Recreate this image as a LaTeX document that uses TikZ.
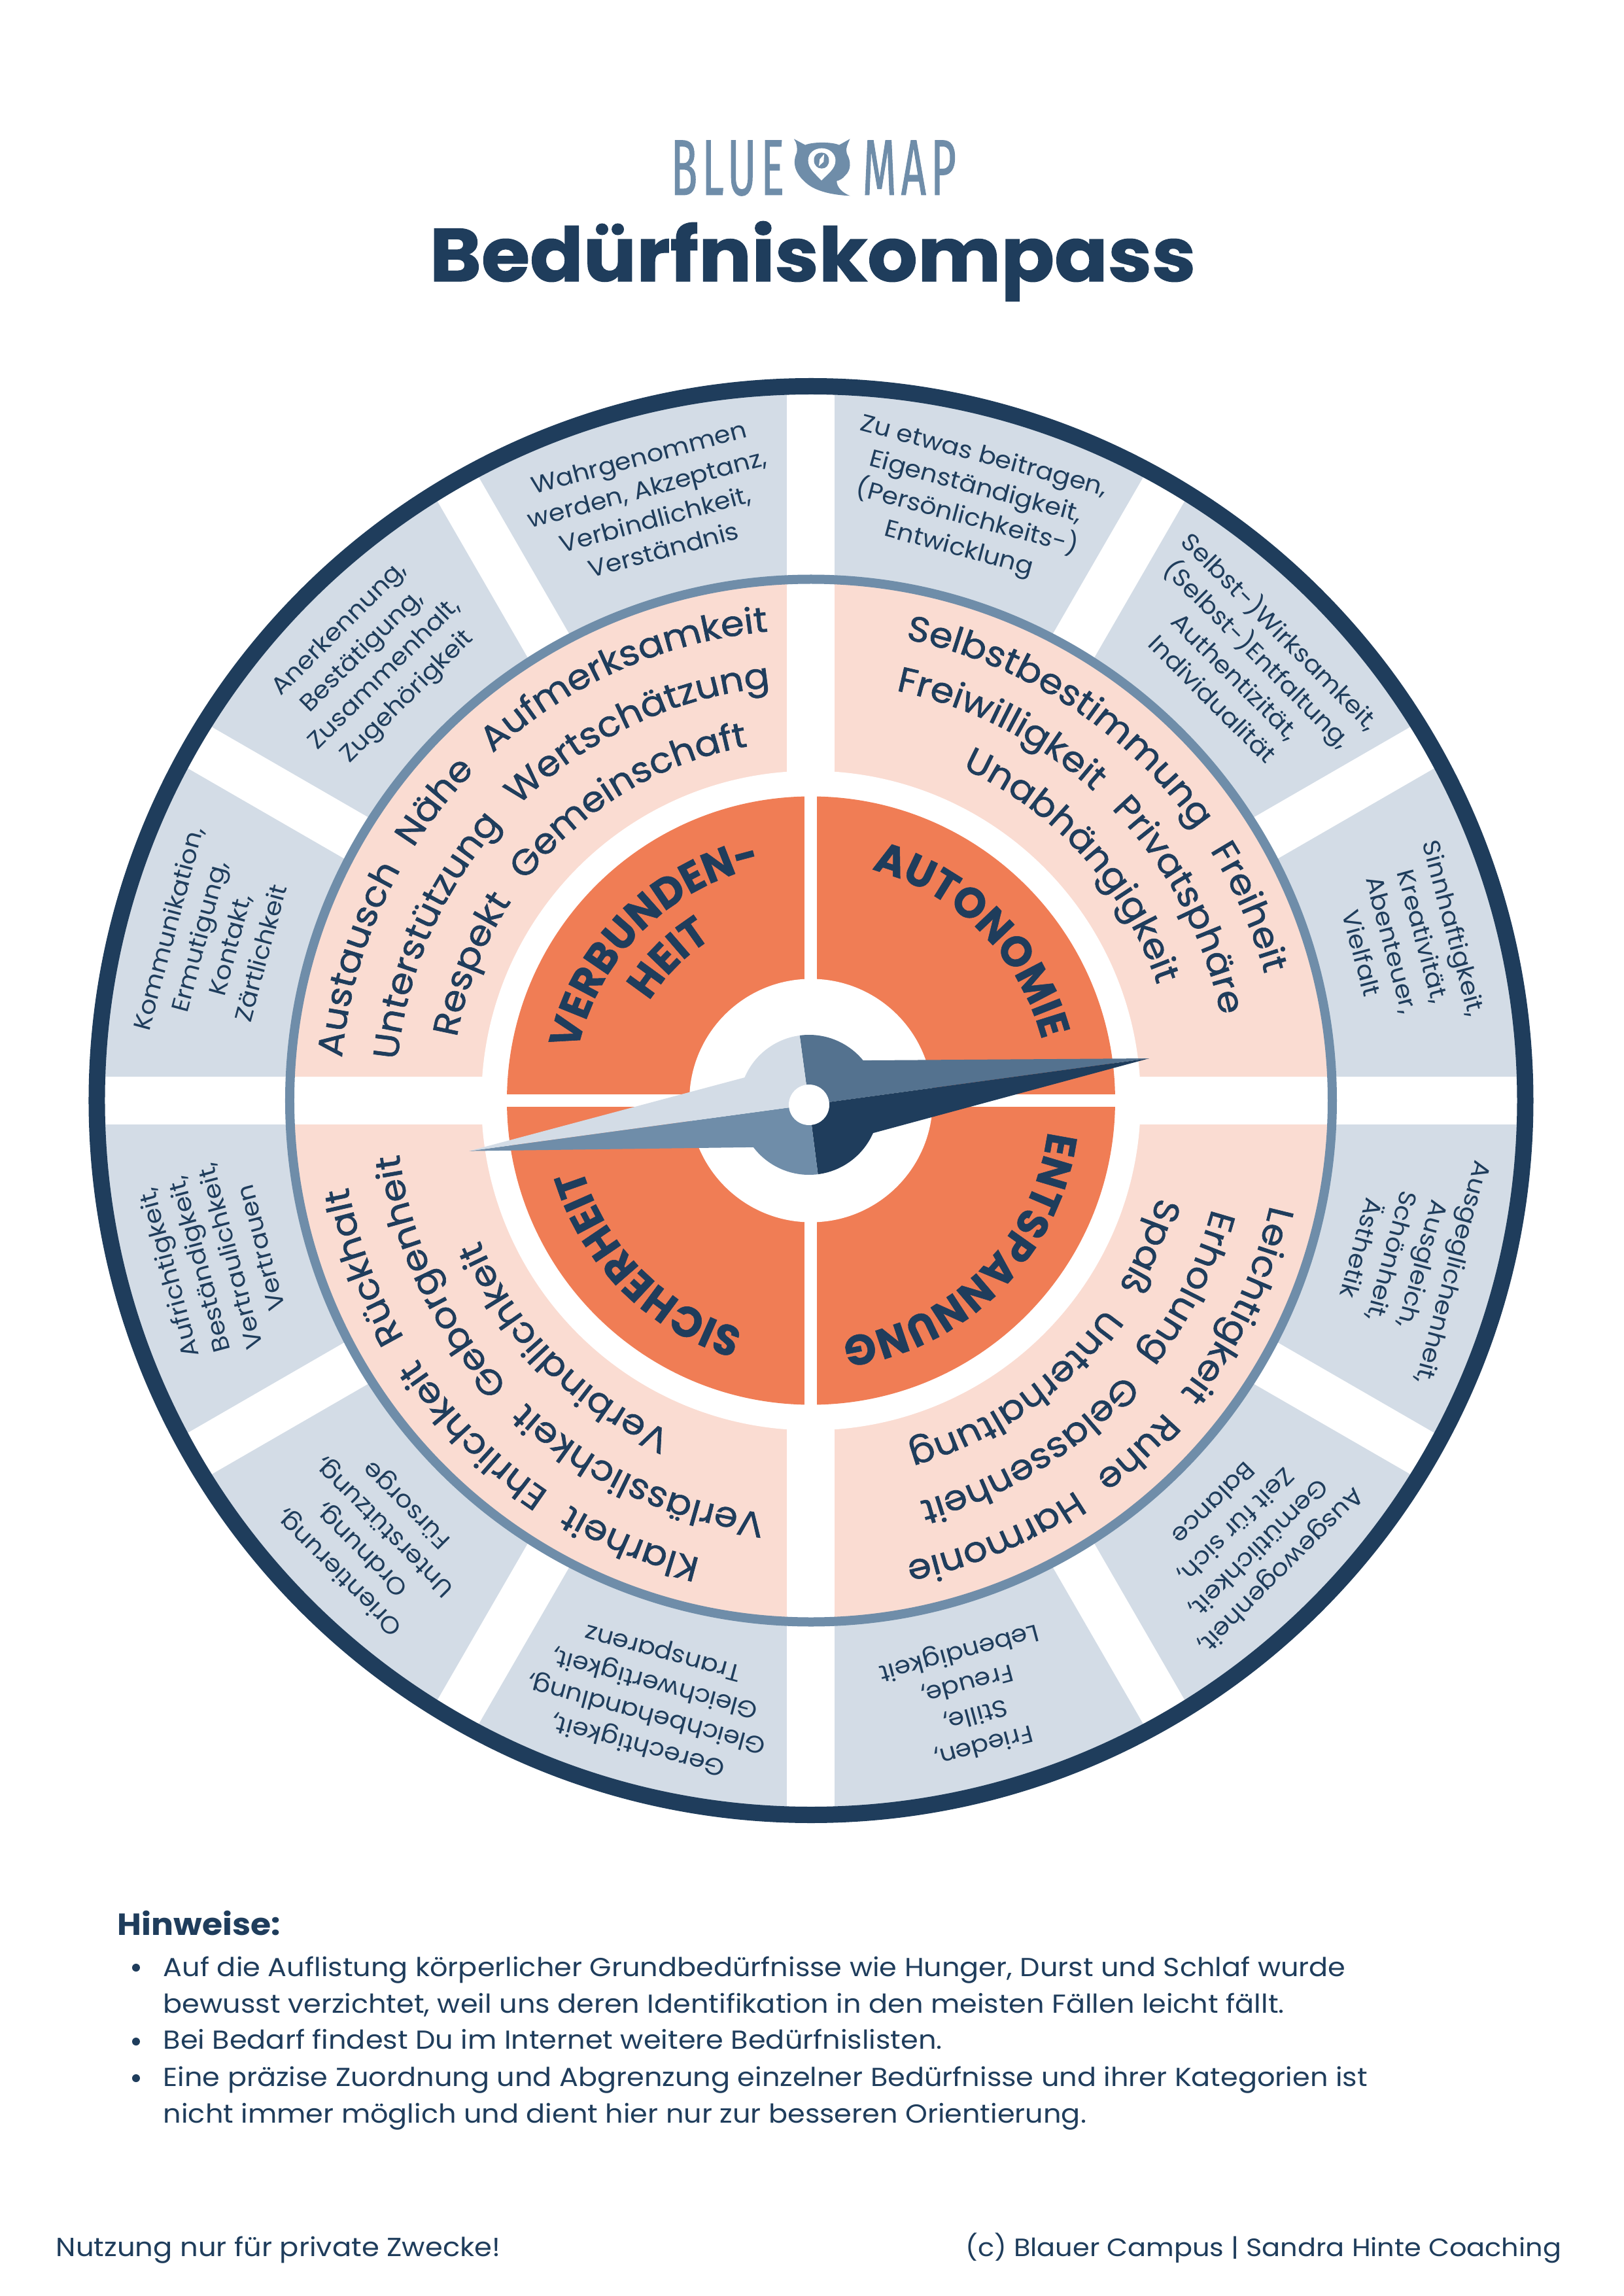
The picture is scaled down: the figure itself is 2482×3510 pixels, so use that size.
\documentclass[tikz,border=0pt]{standalone}
\usepackage{fontspec}
\usetikzlibrary{decorations.text,calc}
\newfontfamily\mainfam[FakeStretch=1.08]{Poppins}
\newfontfamily\pfam[FakeStretch=1.07,FakeBold=1.2]{Poppins}
\newfontfamily\ofam[FakeStretch=0.97,BoldFeatures={FakeBold=0.8}]{Poppins}
\newfontfamily\tfam[FakeStretch=1.05,BoldFeatures={FakeBold=1}]{Poppins}
\newfontfamily\logofam[FakeStretch=0.55,LetterSpace=6,FakeBold=0.8]{Fira Sans}
\definecolor{navy}{HTML}{1F3D5C}
\definecolor{slate}{HTML}{54728F}
\definecolor{steel}{HTML}{6F8DA9}
\definecolor{pale}{HTML}{D3DCE6}
\definecolor{peach}{HTML}{FADCD2}
\definecolor{coral}{HTML}{F07D55}
\newcommand{\pfmt}{\pfam\fontsize{12.9}{14}\selectfont\color{navy}}
\newcommand{\ofmt}{\ofam\bfseries\fontsize{15.6}{20}\selectfont\color{navy}}
\newcommand{\arcline}[4]{%
  \pgfmathsetmacro\sa{#1+70}\pgfmathsetmacro\ea{#1-70}%
  \path[decorate,decoration={text along path,text={|#3|#4},text align=center}]
    (\sa:#2) arc[start angle=\sa,end angle=\ea,radius=#2];}
\tikzset{
  outerlabel/.style={align=center,text=navy,inner sep=0pt,
    font=\mainfam\fontsize{8.8}{11.7}\selectfont},
  bodyline/.style={anchor=base west,text=navy,inner sep=0pt,
    font=\mainfam\fontsize{9.55}{11}\selectfont},
  logotext/.style={text=steel,inner sep=0pt,anchor=base west,
    font=\logofam\fontsize{29}{30}\selectfont},
}
\begin{document}
\begin{tikzpicture}[x=0.2398pt,y=0.2398pt]
\useasboundingbox (-1240,-1827.5) rectangle (1242,1682.5);
\fill[white] (-1240,-1827.5) rectangle (1242,1682.5);
% ---- header
\node[logotext] (blue) at (-215,1384.5) {BLUE};
\node[logotext] (map) at (78,1384.5) {MAP};
\begin{scope}[shift={(-290,1512.5)},x=0.2398pt/2.703,y=-0.2398pt/3]
  \fill[steel] (713,127) -- (760,155) .. controls (790,140) and (870,140) .. (900,155) -- (945,127)
    .. controls (935,150) and (925,175) .. (932,195) .. controls (950,230) and (950,270) .. (925,295)
    .. controls (915,310) and (900,318) .. (890,320) .. controls (890,350) and (915,375) .. (945,388)
    .. controls (880,385) and (810,370) .. (770,335) .. controls (730,300) and (700,250) .. (725,190)
    .. controls (728,165) and (725,145) .. (713,127) -- cycle;
  \fill[white] (827,318) .. controls (800,285) and (772,265) .. (772,225)
    .. controls (772,190) and (800,170) .. (828,170) .. controls (860,170) and (885,195) .. (885,225)
    .. controls (885,265) and (855,285) .. (827,318) -- cycle;
  \fill[steel] (796,225) .. controls (796,200) and (810,190) .. (828,190) .. controls (846,190) and (858,205) .. (858,225)
    .. controls (858,248) and (846,263) .. (828,263) .. controls (810,263) and (796,248) .. (796,225) -- cycle;
  \fill[white] (838,197) -- (836,232) -- (816,252) -- (820,220) -- cycle;
\end{scope}
\node[anchor=base,text=navy,inner sep=0pt,font=\tfam\bfseries\fontsize{27.5}{32}\selectfont] (title) at (2.5,1252.5) {Bedürfniskompass};
% ---- wheel
\fill[pale] (0,0) circle[radius=1092];
\foreach \a in {0,30,60,90,120,150}{
  \fill[white,rotate=\a] (-1150,-36.5) rectangle (1150,36.5);}
\fill[peach] (0,0) circle[radius=797];
\fill[white] (-800,-36.5) rectangle (800,36.5);
\fill[white] (-36.5,-800) rectangle (36.5,800);
\fill[white] (0,0) circle[radius=504];
\fill[coral] (0,0) circle[radius=465];
\fill[white] (-470,-9.5) rectangle (470,9.5);
\fill[white] (-9.5,-470) rectangle (9.5,470);
\fill[white] (0,0) circle[radius=186];
\draw[steel,line width=14*0.2398pt] (0,0) circle[radius=797];
\draw[navy,line width=25*0.2398pt] (0,0) circle[radius=1092];
% ---- outer labels
\node[outerlabel,rotate=-15] (n1) at (75:945) {Zu etwas beitragen,\\Eigenständigkeit,\\(Persönlichkeits-)\\Entwicklung};
\node[outerlabel,rotate=-45] (n2) at (45:945) {Selbst-)Wirksamkeit,\\(Selbst-)Entfaltung,\\Authentizität,\\Individualität};
\node[outerlabel,rotate=-75] (n3) at (15:945) {Sinnhaftigkeit,\\Kreativität,\\Abenteuer,\\Vielfalt};
\node[outerlabel,rotate=-105] (n4) at (-15:945) {Ausgeglichenheit,\\Ausgleich,\\Schönheit,\\Ästhetik};
\node[outerlabel,rotate=-135] (n5) at (-45:945) {Ausgewogenheit,\\Gemütlichkeit,\\Zeit für sich,\\Balance};
\node[outerlabel,rotate=-165] (n6) at (-75:945) {Frieden,\\Stille,\\Freude,\\Lebendigkeit};
\node[outerlabel,rotate=165] (n7) at (-105:945) {Gerechtigkeit,\\Gleichbehandlung,\\Gleichwertigkeit,\\Transparenz};
\node[outerlabel,rotate=135] (n8) at (-135:945) {Orientierung,\\Ordnung,\\Unterstützung,\\Fürsorge};
\node[outerlabel,rotate=105] (n9) at (-165:945) {Aufrichtigkeit,\\Beständigkeit,\\Vertraulichkeit,\\Vertrauen};
\node[outerlabel,rotate=75] (n10) at (165:945) {Kommunikation,\\Ermutigung,\\Kontakt,\\Zärtlichkeit};
\node[outerlabel,rotate=45] (n11) at (135:945) {Anerkennung,\\Bestätigung,\\Zusammenhalt,\\Zugehörigkeit};
\node[outerlabel,rotate=15] (n12) at (105:945) {Wahrgenommen\\werden, Akzeptanz,\\Verbindlichkeit,\\Verständnis};
% ---- peach labels
\arcline{47}{720}{\pfmt}{Selbstbestimmung{\kern9pt}Freiheit}
\arcline{45}{640}{\pfmt}{Freiwilligkeit{\kern9pt}Privatsphäre}
\arcline{42}{558}{\pfmt}{Unabhängigkeit}
\arcline{135}{720}{\pfmt}{Austausch{\kern9pt}Nähe{\kern9pt}Aufmerksamkeit}
\arcline{135}{635}{\pfmt}{Unterstützung{\kern9pt}Wertschätzung}
\arcline{135}{550}{\pfmt}{Respekt{\kern9pt}Gemeinschaft}
\arcline{223.5}{720}{\pfmt}{Klarheit{\kern9pt}Ehrlichkeit{\kern9pt}Rückhalt}
\arcline{225.5}{635}{\pfmt}{Verlässlichkeit{\kern9pt}Geborgenheit}
\arcline{225}{550}{\pfmt}{Verbindlichkeit}
\arcline{314.4}{720}{\pfmt}{Leichtigkeit{\kern9pt}Ruhe{\kern9pt}Harmonie}
\arcline{315}{635}{\pfmt}{Erholung{\kern9pt}Gelassenheit}
\arcline{315}{550}{\pfmt}{Spaß{\kern9pt}Unterhaltung}
% ---- coral labels
\arcline{45}{365}{\ofmt}{AUTONOMIE}
\arcline{135}{365}{\ofmt}{VERBUNDEN-}
\arcline{135}{290}{\ofmt}{HEIT}
\arcline{225}{365}{\ofmt}{SICHERHEIT}
\arcline{315}{365}{\ofmt}{ENTSPANNUNG}
% ---- needle
\coordinate (nc) at (-3,-6.5);
\coordinate (tipR) at (517,64.5);
\coordinate (tipL) at (-522.5,-77.1);
\fill[slate] (nc) -- ($(nc)+(97.7:107)$) arc[start angle=97.7,end angle=39.4,radius=107] -- (tipR) -- cycle;
\fill[navy] (nc) -- (tipR) -- ($(nc)+(-23.8:107)$) arc[start angle=-23.8,end angle=-82.7,radius=107] -- cycle;
\fill[steel] (nc) -- ($(nc)+(277.3:107)$) arc[start angle=277.3,end angle=217.3,radius=107] -- (tipL) -- cycle;
\fill[pale] (nc) -- (tipL) -- ($(nc)+(157:107)$) arc[start angle=157,end angle=97.7,radius=107] -- cycle;
\fill[white] (nc) circle[radius=31];
% ---- notes
\node[bodyline,font=\mainfam\bfseries\fontsize{11.2}{12}\selectfont] (hint) at (-1061,-1275.5) {Hinweise:};
\foreach \yy in {-1325.5,-1438.5,-1494.5}{\fill[navy] (-1032,\yy) circle[radius=6];}
\node[bodyline] (l1) at (-991,-1338.5) {Auf die Auflistung körperlicher Grundbedürfnisse wie Hunger, Durst und Schlaf wurde};
\node[bodyline] (l2) at (-991,-1394.5) {bewusst verzichtet, weil uns deren Identifikation in den meisten Fällen leicht fällt.};
\node[bodyline] (l3) at (-991,-1449.5) {Bei Bedarf findest Du im Internet weitere Bedürfnislisten.};
\node[bodyline] (l4) at (-991,-1506.5) {Eine präzise Zuordnung und Abgrenzung einzelner Bedürfnisse und ihrer Kategorien ist};
\node[bodyline] (l5) at (-991,-1562.5) {nicht immer möglich und dient hier nur zur besseren Orientierung.};
\node[bodyline,font=\mainfam\fontsize{9.6}{11}\selectfont] (fl) at (-1155,-1766.5) {Nutzung nur für private Zwecke!};
\node[bodyline,anchor=base east,font=\mainfam\fontsize{9.2}{11}\selectfont] (fr) at (1148,-1766.5) {(c) Blauer Campus | Sandra Hinte Coaching};
\end{tikzpicture}
\end{document}
